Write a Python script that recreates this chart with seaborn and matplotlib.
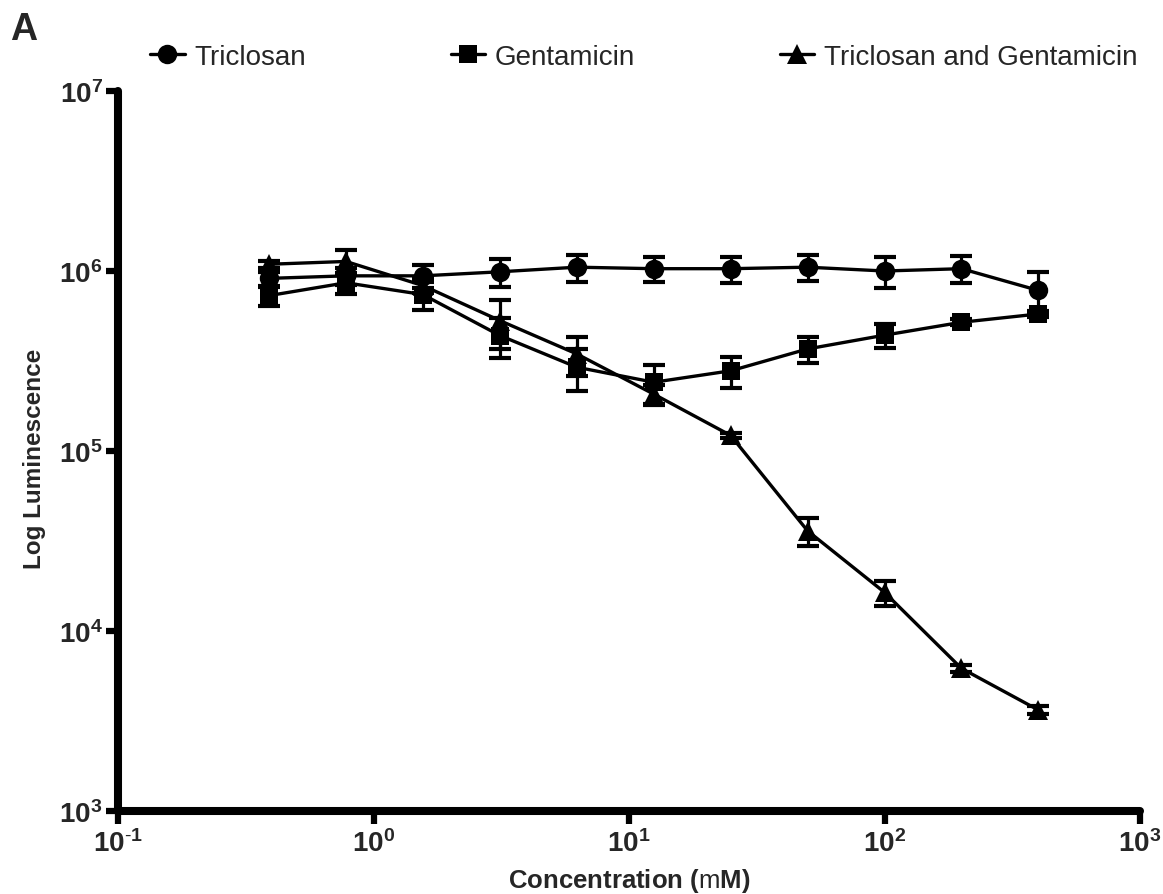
import matplotlib
matplotlib.use("Agg")
import matplotlib.pyplot as plt
import matplotlib.ticker as mticker
from matplotlib.lines import Line2D
import numpy as np
import pandas as pd
import seaborn as sns

# ---- data ----
conc = [0.39, 0.78, 1.56, 3.125, 6.25, 12.5, 25, 50, 100, 200, 400]
triclosan = [9.1e5, 9.4e5, 9.4e5, 9.9e5, 1.05e6, 1.03e6, 1.03e6, 1.05e6, 1.0e6, 1.03e6, 7.8e5]
triclosan_err = [8e4, 1.0e5, 1.4e5, 1.7e5, 1.8e5, 1.6e5, 1.7e5, 1.75e5, 2.0e5, 1.75e5, 2.1e5]
gentamicin = [7.3e5, 8.6e5, 7.4e5, 4.38e5, 2.92e5, 2.41e5, 2.79e5, 3.69e5, 4.4e5, 5.19e5, 5.77e5]
gentamicin_err = [9e4, 1.15e5, 1.3e5, 1.1e5, 7.7e4, 6e4, 5.5e4, 6e4, 6.5e4, 2e4, 2.5e4]
combo = [1.09e6, 1.13e6, 8.3e5, 5.3e5, 3.46e5, 2.07e5, 1.22e5, 3.6e4, 1.64e4, 6.2e3, 3.64e3]
combo_err = [5e4, 1.8e5, 8e4, 1.6e5, 8.6e4, 2.5e4, 4e3, 6.5e3, 2.6e3, 3e2, 2e2]
series_names = ["Triclosan", "Gentamicin", "Triclosan and Gentamicin"]
x_ticks = [1e-1, 1e0, 1e1, 1e2, 1e3]
y_ticks = [1e3, 1e4, 1e5, 1e6, 1e7]

sns.set_style("white")
plt.rcParams["font.family"] = ["Liberation Sans", "DejaVu Sans"]
plt.rcParams["mathtext.fontset"] = "custom"
plt.rcParams["mathtext.rm"] = "Liberation Sans"
plt.rcParams["mathtext.bf"] = "Liberation Sans:bold"
plt.rcParams["mathtext.default"] = "bf"

df = pd.DataFrame({
    "conc": conc * 3,
    "lum": triclosan + gentamicin + combo,
    "err": triclosan_err + gentamicin_err + combo_err,
    "series": [series_names[0]] * len(conc) + [series_names[1]] * len(conc) + [series_names[2]] * len(conc),
})

fig = plt.figure(figsize=(11.63, 8.95), dpi=100)
ax = fig.add_axes([118 / 1163, 1 - 812 / 895, 1022 / 1163, 720 / 895])

markers = {series_names[0]: "o", series_names[1]: "s", series_names[2]: "^"}
msizes = {series_names[0]: 14, series_names[1]: 13.5, series_names[2]: 14}

for name in series_names:
    sub = df[df["series"] == name]
    ax.errorbar(sub["conc"], sub["lum"], yerr=sub["err"], fmt="none", ecolor="black",
                elinewidth=2.3, capsize=8, capthick=3.0, zorder=2)
    sns.lineplot(data=sub, x="conc", y="lum", ax=ax, color="black", linewidth=2.4,
                 marker=markers[name], markersize=msizes[name], markeredgewidth=0,
                 legend=False, zorder=3)

ax.set_xscale("log")
ax.set_yscale("log")
ax.set_xlim(1e-1, 1e3)
ax.set_ylim(1e3, 1e7)

def fmt(v, pos):
    e = int(round(np.log10(v)))
    if e < 0:
        return r"$\mathbf{10^{\text{-}%d}}$" % (-e)
    return r"$\mathbf{10^{%d}}$" % e

ax.xaxis.set_major_locator(mticker.FixedLocator(x_ticks))
ax.yaxis.set_major_locator(mticker.FixedLocator(y_ticks))
ax.xaxis.set_minor_locator(mticker.NullLocator())
ax.yaxis.set_minor_locator(mticker.NullLocator())
ax.xaxis.set_major_formatter(mticker.FuncFormatter(fmt))
ax.yaxis.set_major_formatter(mticker.FuncFormatter(fmt))

for s in ["top", "right"]:
    ax.spines[s].set_visible(False)
for s in ["left", "bottom"]:
    ax.spines[s].set_linewidth(5.8)
    ax.spines[s].set_color("black")
    ax.spines[s].set_capstyle("round")

ax.tick_params(axis="both", which="major", direction="out", length=9, width=4.5,
               color="black", labelsize=20, pad=2, bottom=True, left=True)
ax.tick_params(axis="x", pad=4)
ax.set_facecolor("white")

ax.set_xlabel(r"Concentration ($\mathrm{m}$M)", fontsize=18.5, fontweight="bold")
ax.set_ylabel("Log Luminescence", fontsize=17.5, fontweight="bold")
ax.xaxis.set_label_coords(0.5, -(867 - 812) / 720)
ax.yaxis.set_label_coords(-(118 - 46) / 1022, 0.49)

handles = [Line2D([], [], color="black", linewidth=2.4, marker=markers[n],
                  markersize=msizes[n], markeredgewidth=0) for n in series_names]
fig.legend(handles, series_names, loc="center left", bbox_to_anchor=(150 / 1163, 1 - 58 / 895),
           ncol=3, frameon=False, fontsize=20, handlelength=1.25, handletextpad=0.35,
           columnspacing=5.2, borderpad=0, borderaxespad=0)

fig.text(10 / 1163, 1 - 12 / 895, "A", fontsize=27, fontweight="bold", va="top", ha="left")

fig.savefig("out.png", dpi=100, facecolor="white")
